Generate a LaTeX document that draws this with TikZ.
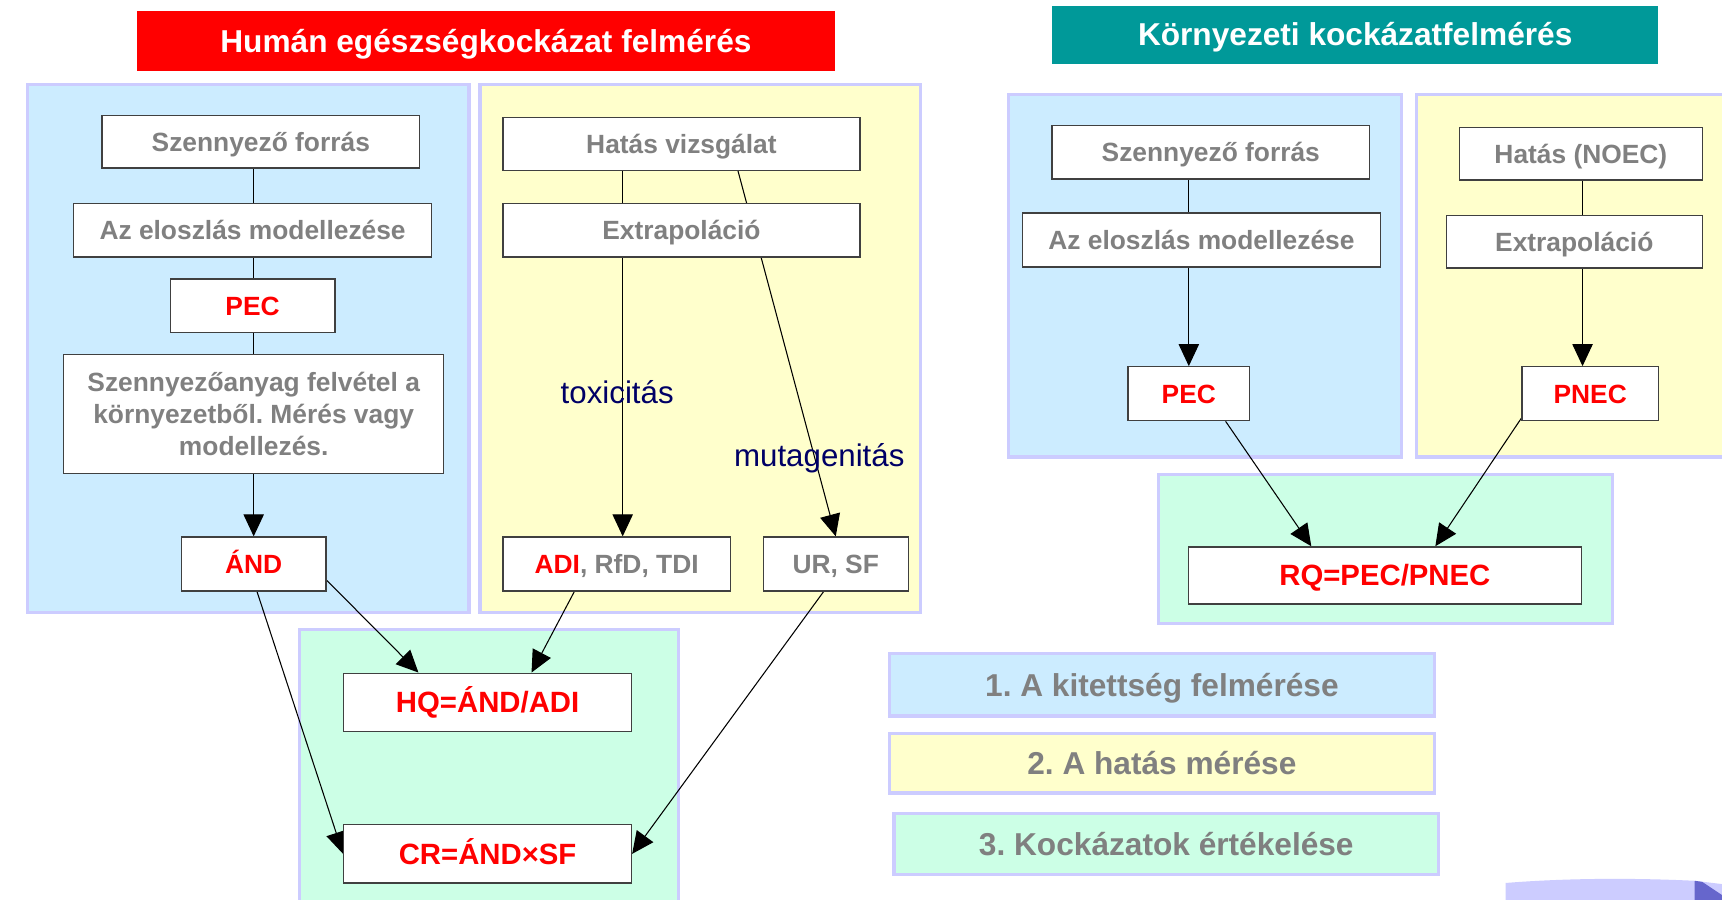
\documentclass[tikz,border=0pt]{standalone}
\usepackage{fontspec}
\setmainfont{Liberation Sans}
\usetikzlibrary{arrows.meta,calc}
\definecolor{tred}{HTML}{FF0000}
\definecolor{tteal}{HTML}{009999}
\definecolor{pblue}{HTML}{CCECFF}
\definecolor{pyellow}{HTML}{FFFFCC}
\definecolor{pgreen}{HTML}{CCFFE6}
\definecolor{plav}{HTML}{CCCCFF}
\definecolor{tgray}{HTML}{808080}
\definecolor{tnavy}{HTML}{000066}
\definecolor{dpurple}{HTML}{6666CC}
\definecolor{bgray}{HTML}{404040}
\pgfdeclarelayer{bg}\pgfdeclarelayer{mid}\pgfsetlayers{bg,mid,main}
\frenchspacing
\begin{document}
\begin{tikzpicture}[x=0.02cm,y=-0.02cm,
  panel/.style={draw=plav,line width=1.7pt},
  basebox/.style={draw=bgray,fill=white,line width=0.7pt,inner sep=0pt,text=tgray,
    font=\fontsize{13.66}{16.5}\selectfont\bfseries},
  box/.style={basebox,text height=9.8pt,text depth=0pt},
  redbox/.style={box,text=tred},
  bigred/.style={basebox,text=tred,text height=10.9pt,text depth=0pt,
    font=\fontsize{15.2}{18}\selectfont\bfseries},
  titlebox/.style={inner sep=0pt,text=white,text height=11.8pt,text depth=0pt,
    font=\fontsize{16.4}{19}\selectfont\bfseries},
  legbox/.style={draw=plav,line width=1.7pt,inner sep=0pt,text=tgray,
    text height=11.8pt,text depth=0pt,font=\fontsize{16.4}{19}\selectfont\bfseries},
  lbl/.style={inner sep=0pt,text=tnavy,font=\fontsize{16.2}{19}\selectfont},
  conn/.style={draw=black,line width=0.55pt},
  arr/.style={conn,-{Triangle[length=0.4cm,width=0.37cm]}}]
\useasboundingbox (0,0) rectangle (1568,819);

% panels
\begin{pgfonlayer}{bg}
\fill[white] (0,0) rectangle (1568,819);
\draw[panel,fill=pblue] (25,77) rectangle (427,558);
\draw[panel,fill=pyellow] (437,77) rectangle (838,558);
\draw[panel,fill=pgreen] (273,573) rectangle (618,830);
\draw[panel,fill=pblue] (918,86) rectangle (1276,416);
\draw[panel,fill=pyellow] (1290,86) rectangle (1580,416);
\draw[panel,fill=pgreen] (1055,432) rectangle (1468,568);
% partial shape at bottom right
\fill[plav] (1371,804) .. controls (1420,800) and (1480,799) .. (1543,802) -- (1568,805) -- (1568,825) -- (1371,825) -- cycle;
\fill[dpurple] (1543,802) -- (1550,803) -- (1568,815) -- (1568,825) -- (1543,825) -- cycle;
\end{pgfonlayer}

% titles
\node[titlebox,fill=tred,minimum width=12.7cm,minimum height=1.1cm] (t1) at (442.5,37.5) {Humán egészségkockázat felmérés};
\node[titlebox,fill=tteal,minimum width=11.04cm,minimum height=1.06cm] (t2) at (1234,31.5) {Környezeti kockázatfelmérés};

% left (exposure)
\node[box,minimum width=5.78cm,minimum height=0.96cm] (src1) at (237.5,129) {Szennyező forrás};
\node[box,minimum width=6.52cm,minimum height=0.98cm] (dist1) at (230,209.5) {Az eloszlás modellezése};
\node[redbox,minimum width=3.0cm,minimum height=0.98cm] (pec1) at (230,278.5) {PEC};
\node[basebox,align=center,minimum width=6.92cm,minimum height=2.16cm] (upt) at (231,377) {Szennyezőanyag felvétel a\\környezetből. Mérés vagy\\modellezés.};
\node[redbox,minimum width=2.64cm,minimum height=0.98cm] (and1) at (231,513.5) {ÁND};

% yellow (effect)
\node[box,minimum width=6.5cm,minimum height=0.96cm] (hat) at (620.5,131) {Hatás vizsgálat};
\node[box,minimum width=6.5cm,minimum height=0.98cm] (ext1) at (620.5,209.5) {Extrapoláció};
\node[box,minimum width=4.14cm,minimum height=0.98cm] (adi) at (561.5,513.5) {\textcolor{tred}{ADI}, RfD, TDI};
\node[box,minimum width=2.64cm,minimum height=0.98cm] (ursf) at (761,513.5) {UR, SF};

% green (risk)
\node[bigred,minimum width=5.24cm,minimum height=1.06cm] (hq) at (444,639.5) {HQ=ÁND/ADI};
\node[bigred,minimum width=5.24cm,minimum height=1.06cm] (cr) at (444,777.5) {CR=ÁND×SF};

% right side
\node[box,minimum width=5.78cm,minimum height=0.98cm] (src2) at (1102.5,138.5) {Szennyező forrás};
\node[box,minimum width=6.52cm,minimum height=0.98cm] (dist2) at (1094,218.5) {Az eloszlás modellezése};
\node[redbox,minimum width=2.22cm,minimum height=0.98cm] (pec2) at (1082.5,358.5) {PEC};
\node[box,minimum width=4.42cm,minimum height=0.96cm] (noec) at (1439.5,140) {Hatás (NOEC)};
\node[box,minimum width=4.66cm,minimum height=0.96cm] (ext2) at (1433.5,220) {Extrapoláció};
\node[redbox,minimum width=2.48cm,minimum height=0.98cm] (pnec) at (1448,358.5) {PNEC};
\node[bigred,minimum width=7.16cm,minimum height=1.04cm] (rq) at (1261,524) {RQ=PEC/PNEC};

% legend
\node[legbox,fill=pblue,minimum width=9.92cm,minimum height=1.14cm] (leg1) at (1058,623.5) {1. A kitettség felmérése};
\node[legbox,fill=pyellow,minimum width=9.92cm,minimum height=1.08cm] (leg2) at (1058,695) {2. A hatás mérése};
\node[legbox,fill=pgreen,minimum width=9.92cm,minimum height=1.1cm] (leg3) at (1062,768.5) {3. Kockázatok értékelése};

% helper coordinates
\coordinate (adiin) at ([xshift=0.11cm]adi.north);
\coordinate (hatout) at ([xshift=1.03cm]hat.south);
\coordinate (pnecin) at ([xshift=-0.14cm]pnec.north);

% connectors
\begin{pgfonlayer}{mid}
\draw[conn] (src1.south -| upt.north) -- (dist1.north -| upt.north);
\draw[conn] (dist1.south -| upt.north) -- (pec1.north -| upt.north);
\draw[conn] (pec1.south -| upt.north) -- (upt.north);
\draw[arr] (upt.south) -- (and1.north);
\draw[arr] (adiin |- hat.south) -- (adiin);
\draw[arr] (hatout) -- (ursf.north);
\draw[arr] ([yshift=-0.3cm]and1.east) -- ([xshift=-1.26cm]hq.north);
\draw[arr] ([xshift=-0.77cm]adi.south) -- ([xshift=0.8cm]hq.north);
\draw[arr] ([xshift=0.06cm]and1.south) -- (cr.west);
\draw[arr] ([xshift=-0.22cm]ursf.south) -- (cr.east);
\draw[conn] (src2.south -| pec2.north) -- (dist2.north -| pec2.north);
\draw[arr] (dist2.south -| pec2.north) -- (pec2.north);
\draw[conn] (pnecin |- noec.south) -- (pnecin |- ext2.north);
\draw[arr] (pnecin |- ext2.south) -- (pnecin);
\draw[arr] ([xshift=0.67cm]pec2.south) -- ([xshift=-1.34cm]rq.north);
\draw[arr] ([yshift=0.06cm]pnec.south west) -- ([xshift=0.92cm]rq.north);
\end{pgfonlayer}

% labels
\node[lbl] (tox) at (562,357) {toxicitás};
\node[lbl] (mut) at (746,417) {mutagenitás};
\end{tikzpicture}
\end{document}
